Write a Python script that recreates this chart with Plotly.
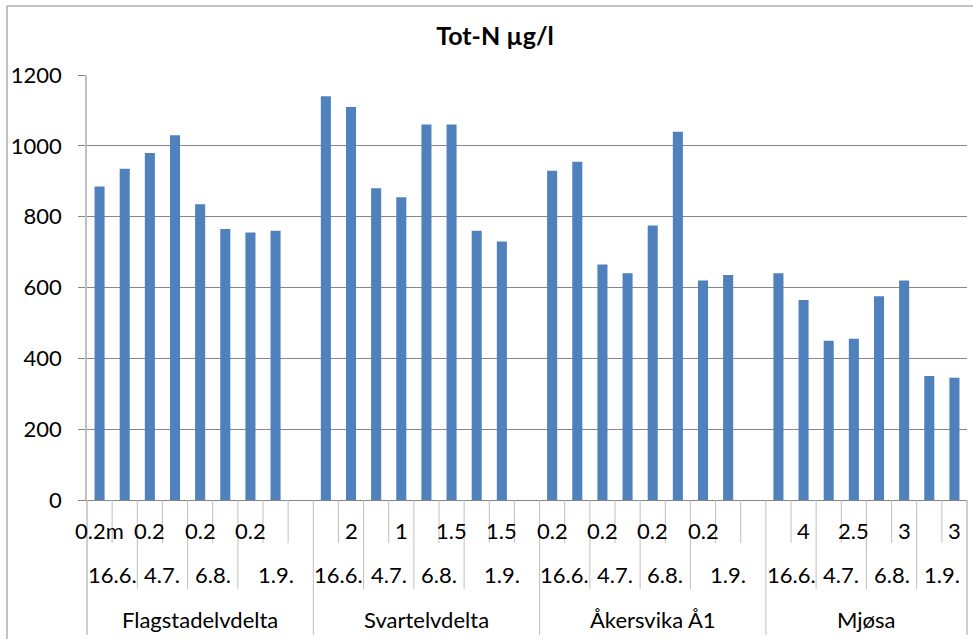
import plotly.graph_objects as go

# one row per category slot, read left to right off the chart
sites = ["Flagstadelvdelta"] * 9 + ["Svartelvdelta"] * 9 + ["Åkersvika Å1"] * 9 + ["Mjøsa"] * 8
dates = (
    ["16.6.", "16.6.", "4.7.", "4.7.", "6.8.", "6.8.", "1.9.", "1.9.", "1.9."] * 3
    + ["16.6.", "16.6.", "4.7.", "4.7.", "6.8.", "6.8.", "1.9.", "1.9."]
)
depths = [
    "0.2m", "", "0.2", "", "0.2", "", "0.2", "", "",
    "", "2", "", "1", "", "1.5", "", "1.5", "",
    "0.2", "", "0.2", "", "0.2", "", "0.2", "", "",
    "", "4", "", "2.5", "", "3", "", "3",
]
tot_n = [
    885, 935, 980, 1030, 835, 765, 755, 760, None,
    1140, 1110, 880, 855, 1060, 1060, 760, 730, None,
    930, 955, 665, 640, 775, 1040, 620, 635, None,
    640, 565, 450, 455, 575, 620, 350, 345,
]
y_ticks = [0, 200, 400, 600, 800, 1000, 1200]

_BAR_COLOR = "#4F81BD"
_GRID_COLOR = "#868686"
_SEP_COLOR = "#BFBFBF"
_FONT = "Lato, Carlito, Calibri, sans-serif"

_PLOT_H = 425  # px height of the plotting area


def _below(px: float) -> float:
    """paper y for a point px pixels under the category axis."""
    return -px / _PLOT_H


def _runs(keys):
    out = []
    start = 0
    for i in range(1, len(keys) + 1):
        if i == len(keys) or keys[i] != keys[start]:
            out.append((start, i - 1, keys[start]))
            start = i
    return out


x = list(range(len(tot_n)))

fig = go.Figure(
    go.Bar(
        x=x,
        y=tot_n,
        width=0.4,
        marker={"color": _BAR_COLOR, "line": {"width": 0}},
        showlegend=False,
    )
)

annotations = []
shapes = []

# depth row
for i, d in enumerate(depths):
    if d:
        annotations.append(dict(x=x[i], y=_below(30), xref="x", yref="paper", text=d,
                                showarrow=False, yanchor="middle"))
# date row
date_runs = _runs(list(zip(sites, dates)))
for a, b, (_, d) in date_runs:
    annotations.append(dict(x=(x[a] + x[b]) / 2, y=_below(74), xref="x", yref="paper", text=d,
                            showarrow=False, yanchor="middle"))
# site row
site_runs = _runs(sites)
for a, b, s in site_runs:
    annotations.append(dict(x=(x[a] + x[b]) / 2, y=_below(119), xref="x", yref="paper", text=s,
                            showarrow=False, yanchor="middle"))

# separator lines
date_starts = {a for a, _, _ in date_runs}
site_starts = {a for a, _, _ in site_runs}
for i in range(1, len(x)):
    if i in site_starts:
        depth_px = 135
    elif i in date_starts:
        depth_px = 89
    else:
        depth_px = 43
    shapes.append(dict(type="line", xref="x", yref="paper", x0=x[i] - 0.5, x1=x[i] - 0.5,
                       y0=0, y1=_below(depth_px), line={"color": _SEP_COLOR, "width": 1}))
for edge in (0, 1):
    shapes.append(dict(type="line", xref="x domain", yref="paper", x0=edge, x1=edge,
                       y0=0, y1=_below(135), line={"color": _SEP_COLOR, "width": 1.5}))

# chart area border (left and top visible)
shapes.append(dict(type="rect", xref="paper", yref="paper", x0=-80 / 880, x1=1.1,
                   y0=_below(160), y1=(494) / _PLOT_H, line={"color": _GRID_COLOR, "width": 1},
                   layer="below"))

fig.update_layout(
    width=973,
    height=639,
    margin={"l": 87, "r": 6, "t": 75, "b": 139},
    paper_bgcolor="white",
    plot_bgcolor="white",
    font={"family": _FONT, "size": 22, "color": "black"},
    title={"text": "<b>Tot-N µg/l</b>", "x": 495 / 973, "xanchor": "center",
           "y": 1 - 36 / 639, "yanchor": "middle", "font": {"size": 25}},
    xaxis={"range": [-0.5, len(x) - 0.5], "showticklabels": False, "showgrid": False,
           "zeroline": False, "showline": True, "linecolor": _GRID_COLOR, "linewidth": 1,
           "ticks": ""},
    yaxis={"range": [0, 1200], "tickvals": y_ticks, "showgrid": True, "gridcolor": _GRID_COLOR,
           "gridwidth": 1, "zeroline": False, "showline": True, "linecolor": _SEP_COLOR,
           "linewidth": 1.5, "ticks": "outside", "ticklen": 7, "tickcolor": _GRID_COLOR,
           "ticklabelstandoff": 12},
    bargap=0.6,
    annotations=annotations,
    shapes=shapes,
)

fig.write_html(
    "out.html",
    config={"displayModeBar": False},
    post_script="document.body.style.margin = '0';",
)
